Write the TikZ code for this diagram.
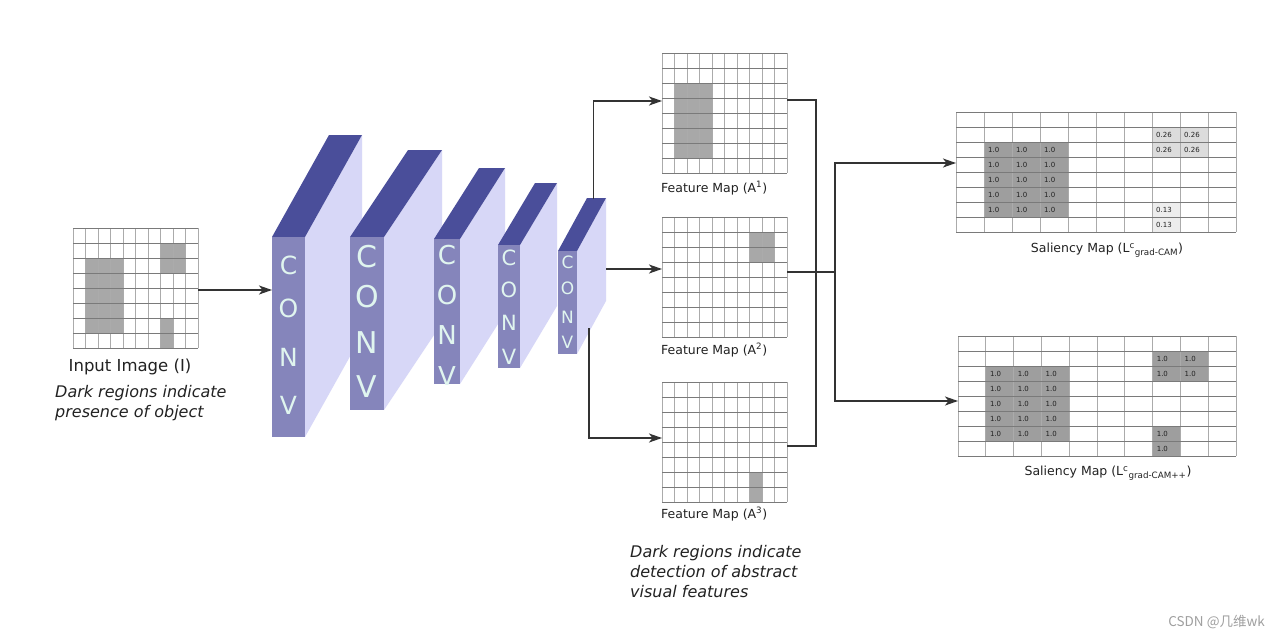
\documentclass[tikz,border=0pt]{standalone}
\usepackage{fontspec}
\setmainfont{DejaVu Sans}
\newfontfamily\cjk{Noto Sans CJK SC}
\usetikzlibrary{arrows.meta,calc}
\definecolor{topc}{HTML}{4A4E9A}
\definecolor{frontc}{HTML}{8585BB}
\definecolor{sidec}{HTML}{D7D7F7}
\definecolor{letc}{HTML}{E0F5EF}
\definecolor{cellg}{HTML}{A8A8A8}
\definecolor{salg}{HTML}{9E9E9E}
\definecolor{sall}{HTML}{DCDCDC}
\definecolor{salx}{HTML}{EDEDED}
\definecolor{hl}{HTML}{7A7A7A}
\definecolor{vl}{HTML}{ABABAB}
\definecolor{ink}{HTML}{222222}
\definecolor{wire}{HTML}{333333}

\tikzset{
  hline/.style={draw=hl,line width=0.9pt},
  vline/.style={draw=vl,line width=0.9pt},
  gridframe/.style={rectangle,draw=none,inner sep=0pt,outer sep=0pt},
  frontface/.style={rectangle,fill=frontc,draw=none,inner sep=0pt,outer sep=0pt},
  convlet/.style={text=letc,inner sep=0pt},
  cellnum/.style={anchor=west,inner sep=0pt,text=ink,font=\fontsize{7}{8}\selectfont},
  fmlabel/.style={inner sep=0pt,text=ink,font=\fontsize{12.5}{15}\selectfont},
  wireline/.style={draw=wire,line width=1.3pt},
  arr/.style={wireline,-{Stealth[length=13pt,width=9pt,inset=3.5pt]}},
}

% grid: x0 y0 cw ch ncols nrows
\newcommand\drawgrid[6]{%
  \foreach \i in {0,...,#5}{\draw[vline] ({#1+\i*#3},#2) -- ({#1+\i*#3},{#2+#6*#4});}
  \foreach \j in {0,...,#6}{\draw[hline] (#1,{#2+\j*#4}) -- ({#1+#5*#3},{#2+\j*#4});}
}
% filled block of cells: x0 y0 cw ch colour c1 c2 r1 r2
\newcommand\cellblock[9]{%
  \fill[#5] ({#1+#6*#3},{#2+#8*#4}) rectangle ({#1+(#7+1)*#3},{#2+(#9+1)*#4});
}
% numbers in cells: x0 y0 cw ch text c1 c2 r1 r2
\newcommand\cellnums[9]{%
  \foreach \c in {#6,...,#7}{\foreach \r in {#8,...,#9}{%
    \node[cellnum] (n-\c-\r) at ({#1+\c*#3+4},{#2+(\r+0.5)*#4}) {#5};}}
}
% conv block: name xL xR yT yB dx dy
\newcommand\convblock[7]{%
  \fill[sidec] (#3,#4) -- ({#3+#6},{#4+#7}) -- ({#3+#6},{#5+#7}) -- (#3,#5) -- cycle;
  \fill[topc] (#2,#4) -- (#3,#4) -- ({#3+#6},{#4+#7}) -- ({#2+#6},{#4+#7}) -- cycle;
  \node[frontface,minimum width={#3-#2},minimum height={#5-#4}] (#1) at ({(#2+#3)/2},{(#4+#5)/2}) {};
}
% letters: name x size y1 y2 y3 y4
\newcommand\convletters[7]{%
  \begin{scope}
  \clip (#1.south west) rectangle (#1.north east);
  \node[convlet,font=\fontsize{#3}{#3}\selectfont] (#1-C) at (#2,#4) {C};
  \node[convlet,font=\fontsize{#3}{#3}\selectfont] (#1-O) at (#2,#5) {O};
  \node[convlet,font=\fontsize{#3}{#3}\selectfont] (#1-N) at (#2,#6) {N};
  \node[convlet,font=\fontsize{#3}{#3}\selectfont] (#1-V) at (#2,#7) {V};
  \end{scope}
}

\begin{document}
\begin{tikzpicture}[x=1pt,y=-1pt]
\useasboundingbox[fill=white] (0,0) rectangle (1280,640);

% ---------- input image ----------
\node[gridframe,minimum width=125,minimum height=120] (inp) at (135.5,288) {};
\cellblock{73}{228}{12.5}{15}{cellg}{1}{3}{2}{6}
\cellblock{73}{228}{12.5}{15}{cellg}{7}{8}{1}{2}
\cellblock{73}{228}{12.5}{15}{cellg}{7}{7}{6}{7}
\drawgrid{73}{228}{12.5}{15}{10}{8}
\node[inner sep=0pt,text=ink,font=\fontsize{16.5}{20}\selectfont] (inplab) at (130,367) {Input Image (I)};
\node[inner sep=0pt,text=ink,align=left,anchor=west,font=\fontsize{16}{19.5}\selectfont\itshape] (inpnote) at (55,403) {Dark regions indicate\\presence of object};

% ---------- conv blocks ----------
\convblock{c1}{272}{305}{237}{437}{57}{-102}
\convletters{c1}{288.5}{25}{265}{308}{357}{405}
\convblock{c2}{350}{384}{237}{410}{58}{-87}
\convletters{c2}{367}{30}{257}{297}{343}{387}
\convblock{c3}{434}{460}{239}{384}{45}{-71}
\convletters{c3}{447}{26}{255}{295}{335}{376}
\convblock{c4}{498}{520}{245}{368}{37}{-62}
\convletters{c4}{509}{21}{258}{290}{323}{357}
\convblock{c5}{558}{577}{251}{354}{29}{-53}
\convletters{c5}{567.5}{17}{262}{288}{317}{342}
\coordinate (c5top) at (593.5,199);
\coordinate (c5side) at (606,269);
\coordinate (c5bot) at (589,328);

% ---------- feature maps ----------
\node[gridframe,minimum width=125,minimum height=120] (fm1) at (724.5,113) {};
\cellblock{662}{53}{12.5}{15}{cellg}{1}{3}{2}{6}
\drawgrid{662}{53}{12.5}{15}{10}{8}
\node[fmlabel,anchor=west] (fm1lab) at (661,188) {Feature Map (A\textsuperscript{1})};

\node[gridframe,minimum width=125,minimum height=120] (fm2) at (724.5,277) {};
\cellblock{662}{217}{12.5}{15}{cellg}{7}{8}{1}{2}
\drawgrid{662}{217}{12.5}{15}{10}{8}
\node[fmlabel,anchor=west] (fm2lab) at (661,350) {Feature Map (A\textsuperscript{2})};

\node[gridframe,minimum width=125,minimum height=120] (fm3) at (724.5,442) {};
\cellblock{662}{382}{12.5}{15}{cellg}{7}{7}{6}{7}
\drawgrid{662}{382}{12.5}{15}{10}{8}
\node[fmlabel,anchor=west] (fm3lab) at (661,514) {Feature Map (A\textsuperscript{3})};

\node[inner sep=0pt,text=ink,align=left,anchor=west,font=\fontsize{16}{20}\selectfont\itshape] (fmnote) at (630,572) {Dark regions indicate\\detection of abstract\\visual features};

% ---------- saliency maps ----------
\node[gridframe,minimum width=280,minimum height=120] (sm1) at (1096,172) {};
\cellblock{956}{112}{28}{15}{salg}{1}{3}{2}{6}
\cellblock{956}{112}{28}{15}{sall}{7}{8}{1}{2}
\cellblock{956}{112}{28}{15}{salx}{7}{7}{6}{7}
\drawgrid{956}{112}{28}{15}{10}{8}
\cellnums{956}{112}{28}{15}{1.0}{1}{3}{2}{6}
\cellnums{956}{112}{28}{15}{0.26}{7}{8}{1}{2}
\cellnums{956}{112}{28}{15}{0.13}{7}{7}{6}{7}
\node[fmlabel] (sm1lab) at (1107,250) {Saliency Map (L\textsuperscript{c}\textsubscript{grad-CAM})};

\node[gridframe,minimum width=278,minimum height=120] (sm2) at (1097,396) {};
\cellblock{958}{336}{27.8}{15}{salg}{1}{3}{2}{6}
\cellblock{958}{336}{27.8}{15}{salg}{7}{8}{1}{2}
\cellblock{958}{336}{27.8}{15}{salg}{7}{7}{6}{7}
\drawgrid{958}{336}{27.8}{15}{10}{8}
\cellnums{958}{336}{27.8}{15}{1.0}{1}{3}{2}{6}
\cellnums{958}{336}{27.8}{15}{1.0}{7}{8}{1}{2}
\cellnums{958}{336}{27.8}{15}{1.0}{7}{7}{6}{7}
\node[fmlabel] (sm2lab) at (1108,473) {Saliency Map (L\textsuperscript{c}\textsubscript{grad-CAM++})};

% ---------- connectors ----------
\draw[arr] (inp.east |- 0,290) -- (c1.west |- 0,290);
\draw[arr] (c5top) |- (fm1.west |- 0,101);
\draw[arr] (c5side) -- (fm2.west |- c5side);
\draw[arr] (c5bot) |- (fm3.west |- 0,438);

\coordinate (jt) at (816,100);
\coordinate (jb) at (816,446);
\coordinate (j2) at (835,272);
\draw[wireline] (fm1.east |- jt) -- (jt) -- (jb) -- (fm3.east |- jb);
\draw[wireline] (fm2.east |- j2) -- (j2);
\draw[arr] (j2) |- (sm1.west |- 0,163);
\draw[arr] (j2) |- (sm2.west |- 0,401);

% ---------- watermark ----------
\node[inner sep=0pt,anchor=east,text=gray!75,font=\cjk\fontsize{13.5}{15}\selectfont] (wm) at (1265,622) {CSDN @几维wk};
\end{tikzpicture}
\end{document}
